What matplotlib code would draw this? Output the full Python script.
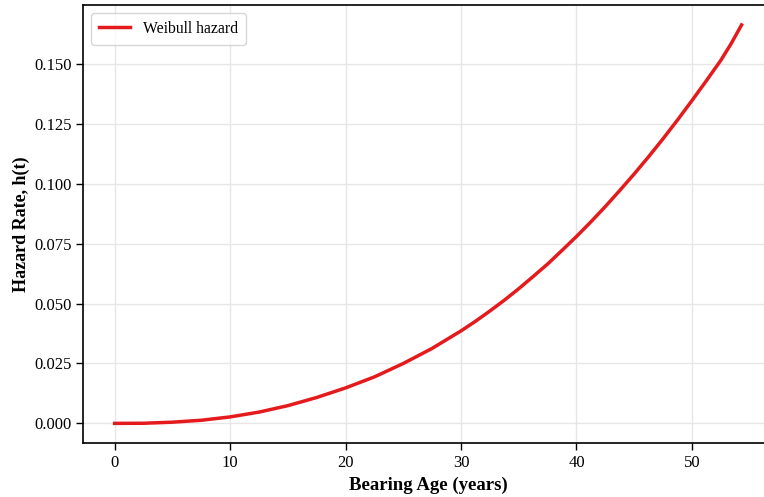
import matplotlib
matplotlib.use("Agg")
import matplotlib.pyplot as plt

age_years = [0, 2.5, 5, 7.5, 10, 12.5, 15, 17.5, 20, 22.5, 25, 27.5, 30, 31.25,
             32.5, 33.75, 35, 36.25, 37.5, 38.75, 40, 41.25, 42.5, 43.75, 45,
             46.25, 47.5, 48.75, 50, 51.25, 52.5, 53.4, 54.3]
hazard = [0.0, 0.00005, 0.0005, 0.0013, 0.0027, 0.0047, 0.0074, 0.0108, 0.0148,
          0.0194, 0.0250, 0.0313, 0.0386, 0.0426, 0.0469, 0.0514, 0.0562, 0.0613,
          0.0665, 0.0722, 0.0780, 0.0841, 0.0905, 0.0972, 0.1041, 0.1113,
          0.1188, 0.1266, 0.1347, 0.1430, 0.1515, 0.1585, 0.1663]
x_ticks = [0, 10, 20, 30, 40, 50]
y_ticks = [0.000, 0.025, 0.050, 0.075, 0.100, 0.125, 0.150]

plt.rcParams['font.family'] = ['Liberation Serif', 'DejaVu Serif']

W, H = 764, 497
fig = plt.figure(figsize=(W / 100, H / 100), dpi=100)
left_px, bottom_px, top_px = 83.3, 443.3, 5.0
width_px = 689.6
ax = fig.add_axes([left_px / W, 1 - bottom_px / H, width_px / W, (bottom_px - top_px) / H])

ax.plot(age_years, hazard, color='#e41a1c', lw=2.5, label='Weibull hazard', zorder=3)

ax.set_xticks(x_ticks)
ax.set_yticks(y_ticks)
ax.set_yticklabels([f"{v:.3f}" for v in y_ticks])
ax.tick_params(axis='both', labelsize=12, length=5, width=1)
ax.grid(True, color='#e6e6e6', lw=1)
ax.set_axisbelow(True)
for s in ax.spines.values():
    s.set_linewidth(1.2)

ax.set_xlabel('Bearing Age (years)', fontsize=13.5, fontweight='bold')
ax.set_ylabel('Hazard Rate, h(t)', fontsize=13, fontweight='bold', labelpad=3)

leg = ax.legend(loc='upper left', fontsize=11.3, frameon=True, fancybox=True,
                edgecolor='#cccccc', borderpad=0.5, handlelength=2.0)

fig.savefig('out.png', dpi=100)
